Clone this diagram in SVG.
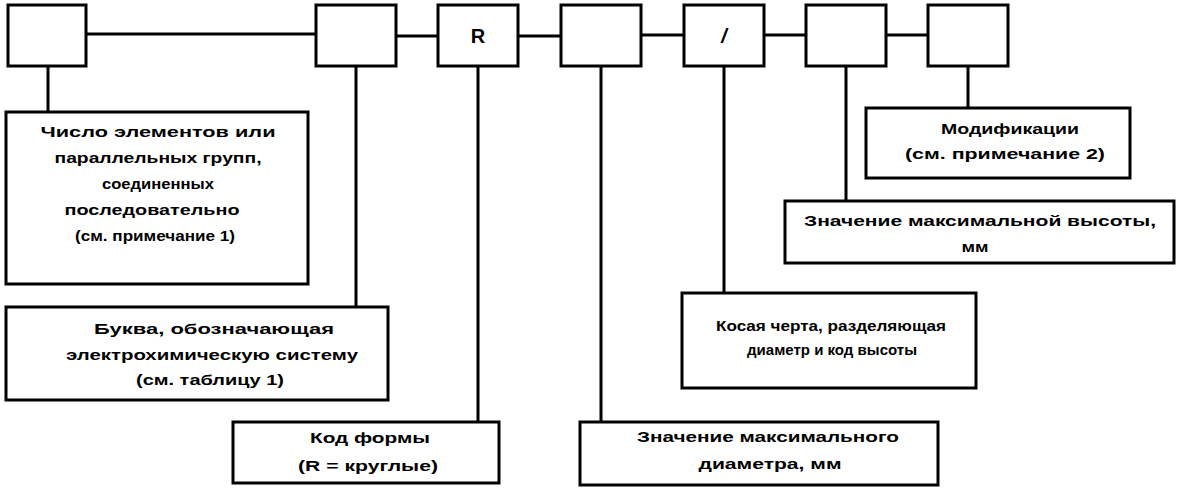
<svg xmlns="http://www.w3.org/2000/svg" width="1177" height="489" viewBox="0 0 1177 489">
<style>
.b{fill:#fff;stroke:#000;stroke-width:3}
.c{stroke:#000;stroke-width:3;fill:none}
.t{font-family:"Liberation Sans",Arial,sans-serif;font-weight:bold;font-size:15px;fill:#000;text-anchor:middle}
.s{font-family:"Liberation Sans",Arial,sans-serif;font-weight:bold;font-size:20px;fill:#000;text-anchor:middle}
</style>
<rect width="1177" height="489" fill="#fff"/>
<g id="connectors" class="c">
<line x1="86" y1="34" x2="316" y2="34"/>
<line x1="396" y1="36" x2="438" y2="36"/>
<line x1="518" y1="36" x2="561" y2="36"/>
<line x1="641" y1="35" x2="684" y2="35"/>
<line x1="764" y1="35" x2="806" y2="35"/>
<line x1="886" y1="35" x2="928" y2="35"/>
<line x1="48" y1="66" x2="48" y2="112"/>
<line x1="356" y1="66" x2="356" y2="307"/>
<line x1="478" y1="66" x2="478" y2="422"/>
<line x1="601" y1="66" x2="601" y2="422"/>
<line x1="724" y1="66" x2="724" y2="293"/>
<line x1="846" y1="66" x2="846" y2="201"/>
<line x1="968" y1="66" x2="968" y2="108"/>
</g>
<g id="box1"><rect class="b" x="8" y="5" width="78" height="61"/></g>
<g id="box2"><rect class="b" x="316" y="5" width="80" height="61"/></g>
<g id="boxR"><rect class="b" x="438" y="5" width="80" height="61"/><text class="s" x="478" y="43">R</text></g>
<g id="box4"><rect class="b" x="561" y="5" width="80" height="61"/></g>
<g id="boxSlash"><rect class="b" x="684" y="5" width="80" height="61"/><text class="s" x="724" y="43" font-style="italic">/</text></g>
<g id="box6"><rect class="b" x="806" y="5" width="80" height="61"/></g>
<g id="box7"><rect class="b" x="928" y="5" width="80" height="61"/></g>
<g id="descA"><rect class="b" x="6" y="112" width="302" height="172"/>
<text class="t" x="158" y="137" textLength="235" lengthAdjust="spacingAndGlyphs">Число элементов или</text>
<text class="t" x="158" y="163" textLength="207" lengthAdjust="spacingAndGlyphs">параллельных групп,</text>
<text class="t" x="158" y="189" textLength="112" lengthAdjust="spacingAndGlyphs">соединенных</text>
<text class="t" x="152" y="215" textLength="175" lengthAdjust="spacingAndGlyphs">последовательно</text>
<text class="t" x="155" y="241" textLength="160" lengthAdjust="spacingAndGlyphs">(см. примечание 1)</text>
</g>
<g id="descB"><rect class="b" x="6" y="307" width="382" height="93"/>
<text class="t" x="214" y="334" textLength="240" lengthAdjust="spacingAndGlyphs">Буква, обозначающая</text>
<text class="t" x="212" y="360" textLength="292" lengthAdjust="spacingAndGlyphs">электрохимическую систему</text>
<text class="t" x="210" y="385" textLength="148" lengthAdjust="spacingAndGlyphs">(см. таблицу 1)</text>
</g>
<g id="descC"><rect class="b" x="233" y="422" width="266" height="61"/>
<text class="t" x="370" y="443" textLength="120" lengthAdjust="spacingAndGlyphs">Код формы</text>
<text class="t" x="368" y="471" textLength="140" lengthAdjust="spacingAndGlyphs">(R = круглые)</text>
</g>
<g id="descD"><rect class="b" x="580" y="422" width="358" height="63"/>
<text class="t" x="768" y="442" textLength="262" lengthAdjust="spacingAndGlyphs">Значение максимального</text>
<text class="t" x="770" y="469" textLength="143" lengthAdjust="spacingAndGlyphs">диаметра, мм</text>
</g>
<g id="descE"><rect class="b" x="682" y="293" width="294" height="95"/>
<text class="t" x="831" y="331" textLength="230" lengthAdjust="spacingAndGlyphs">Косая черта, разделяющая</text>
<text class="t" x="832" y="355" textLength="170" lengthAdjust="spacingAndGlyphs">диаметр и код высоты</text>
</g>
<g id="descF"><rect class="b" x="785" y="201" width="389" height="62"/>
<text class="t" x="980" y="226" textLength="352" lengthAdjust="spacingAndGlyphs">Значение максимальной высоты,</text>
<text class="t" x="975" y="252" textLength="27" lengthAdjust="spacingAndGlyphs">мм</text>
</g>
<g id="descG"><rect class="b" x="866" y="108" width="264" height="70"/>
<text class="t" x="1010" y="134" textLength="138" lengthAdjust="spacingAndGlyphs">Модификации</text>
<text class="t" x="1005" y="159" textLength="200" lengthAdjust="spacingAndGlyphs">(см. примечание 2)</text>
</g>
</svg>
